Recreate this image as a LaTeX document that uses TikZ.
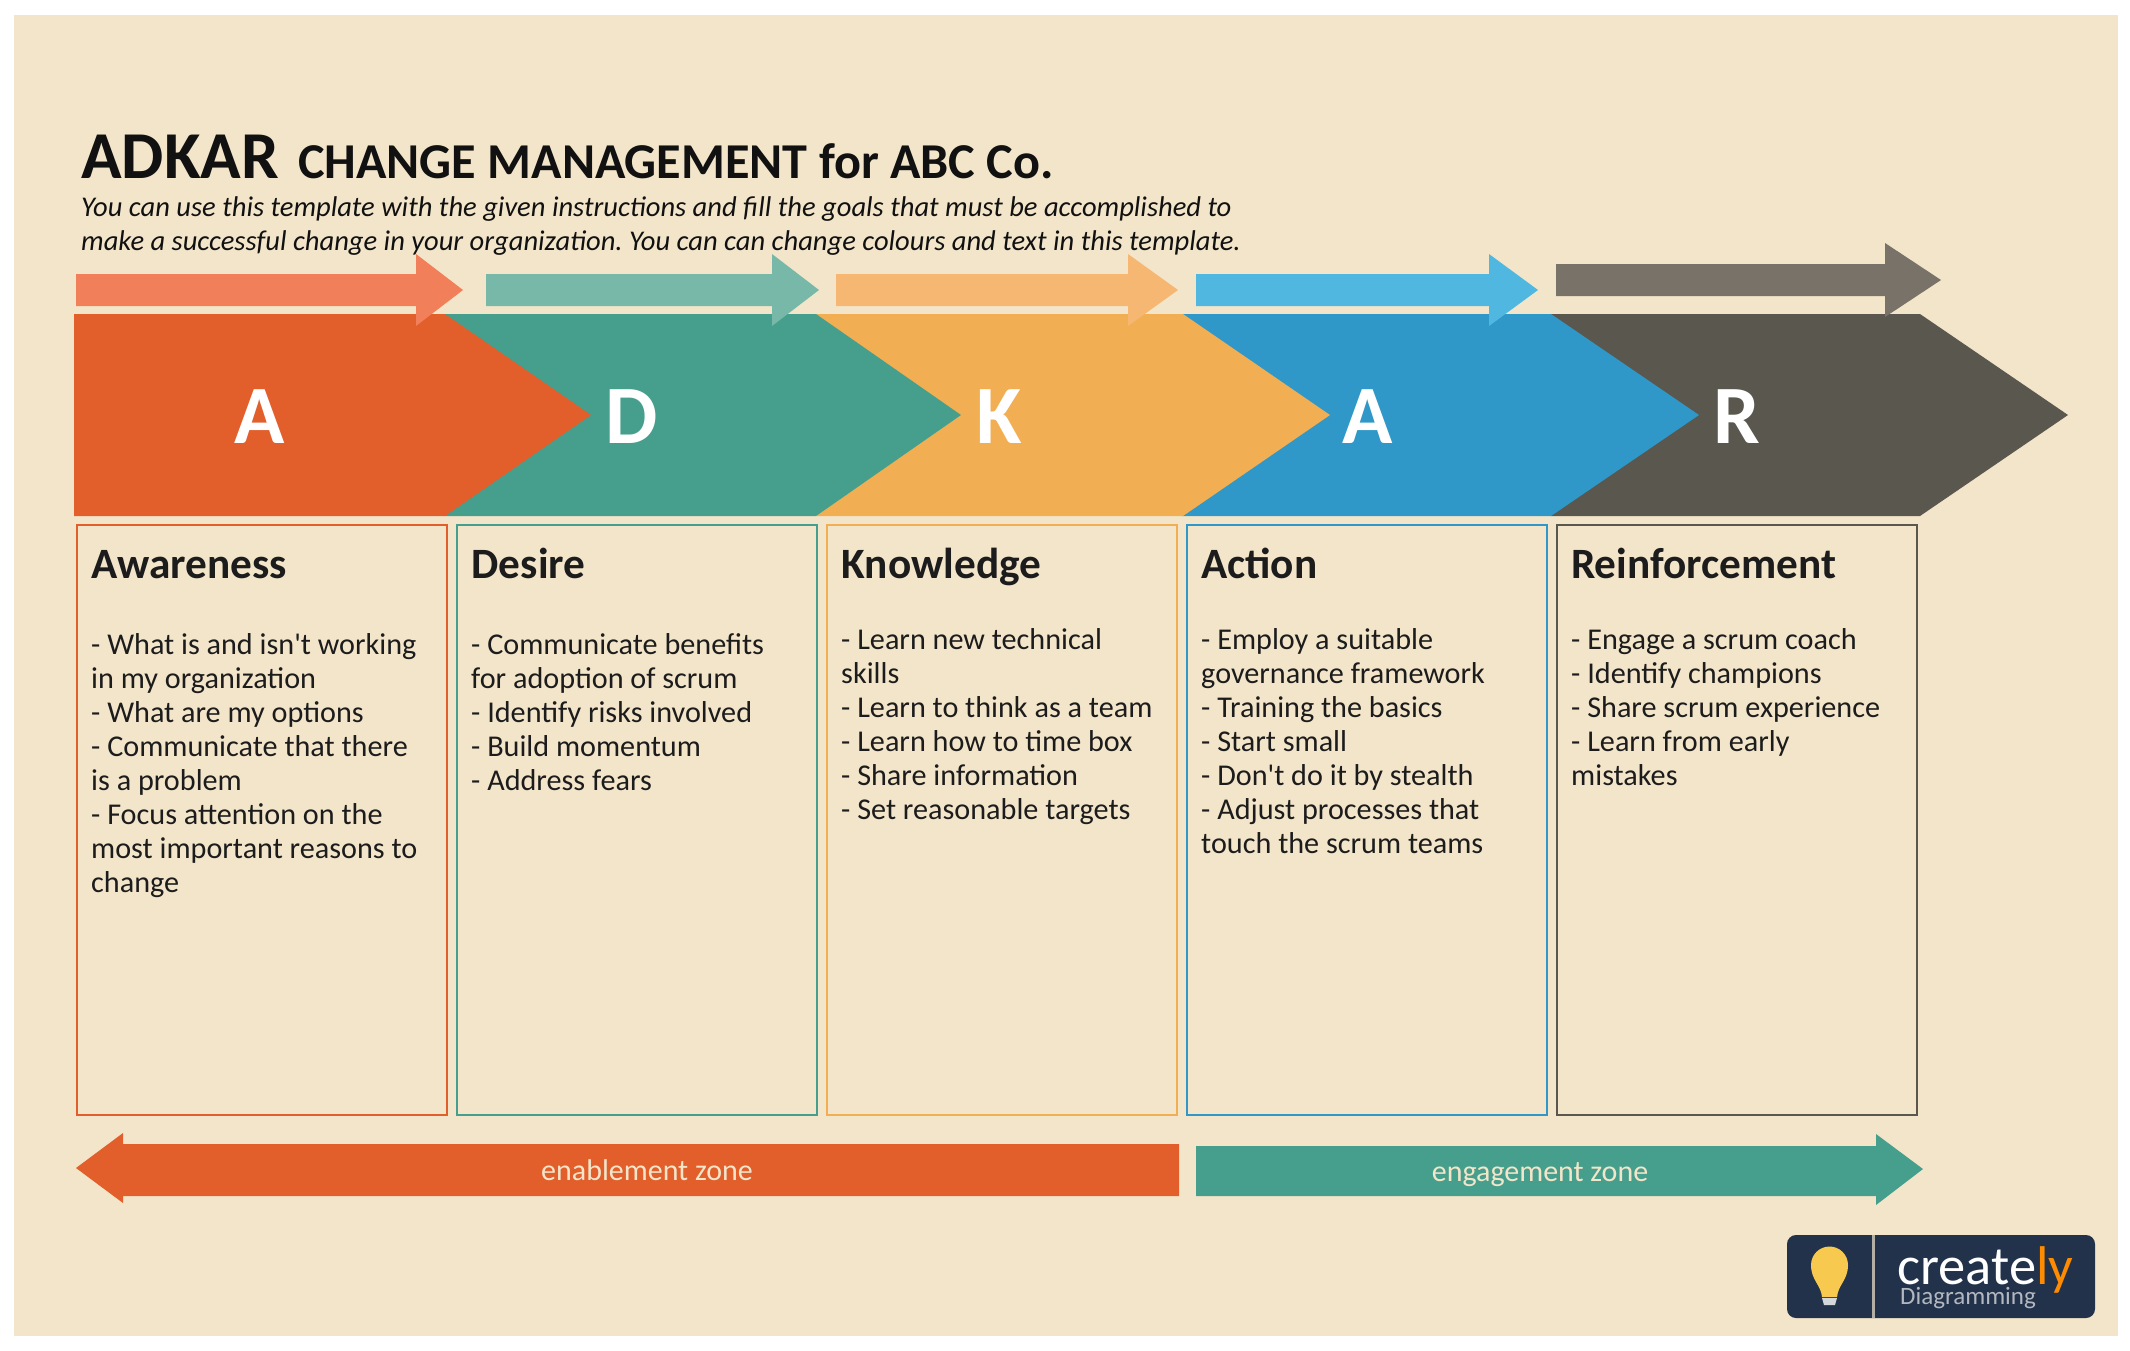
\documentclass[tikz,border=0pt]{standalone}
\usepackage{fontspec}
\setmainfont{Carlito}[Ligatures=TeXOff]
\definecolor{bg}{HTML}{F3E5CA}
\definecolor{cA}{HTML}{E25E2B}
\definecolor{cD}{HTML}{469F8C}
\definecolor{cK}{HTML}{F2AE52}
\definecolor{cC}{HTML}{3098C8}
\definecolor{cR}{HTML}{59574E}
\definecolor{lA}{HTML}{F17F5A}
\definecolor{lD}{HTML}{78B8A8}
\definecolor{lK}{HTML}{F6B773}
\definecolor{lC}{HTML}{50B8E0}
\definecolor{lR}{HTML}{787268}
\definecolor{logo}{HTML}{22324A}
\definecolor{bulb}{HTML}{F7C94F}
\definecolor{ink}{HTML}{111111}
\definecolor{txt}{HTML}{1C1C1C}
\newcommand{\rarrow}[8]{\fill[#1] (#2,#5) -- (#3,#5) -- (#3,#7) -- (#4,#8) -- (#3,2*#8-#7) -- (#3,#6) -- (#2,#6) -- cycle;}
\tikzset{
  letter/.style={text=white,font=\fontsize{83}{83}\selectfont\bfseries,inner sep=0pt,anchor=base},
  stage/.style={draw=#1,line width=2pt,fill=none,anchor=north west,inner sep=0pt,outer sep=0pt},
  head/.style={text=txt,font=\fontsize{43.3}{43.3}\selectfont\bfseries,inner sep=0pt,anchor=base west},
  body/.style={text=txt,font=\fontsize{30.2}{34}\selectfont,inner sep=0pt,anchor=north west,align=left},
  zone/.style={text=bg,font=\fontsize{30}{30}\selectfont,inner sep=0pt,anchor=base}
}
\begin{document}
\frenchspacing
\begin{tikzpicture}[x=1pt,y=-1pt]
\useasboundingbox (0,0) rectangle (2130,1350);
\fill[white] (0,0) rectangle (2130,1350);
\fill[bg] (14,15) rectangle (2118,1336);
% title
\node[text=ink,font=\fontsize{67}{67}\selectfont\bfseries,inner sep=0pt,anchor=base west] (t1) at (81,178) {ADKAR};
\node[text=ink,font=\fontsize{50.2}{50.2}\selectfont\bfseries,inner sep=0pt,anchor=base west] (t2) at (298,178) {CHANGE MANAGEMENT for ABC Co.};
\node[text=ink,font=\fontsize{28.55}{34}\selectfont\itshape,inner sep=0pt,anchor=north west,align=left] (t3) at (81,196.5) {You can use this template with the given instructions and fill the goals that must be accomplished to\\make a successful change in your organization. You can can change colours and text in this template.};
% chevrons
\fill[cR] (1551,314) -- (1920,314) -- (2068,415) -- (1920,516) -- (1551,516) -- cycle;
\fill[cC] (1182,314) -- (1551,314) -- (1699,415) -- (1551,516) -- (1182,516) -- cycle;
\fill[cK] (816,314) -- (1183,314) -- (1330,415) -- (1183,516) -- (816,516) -- cycle;
\fill[cD] (445,314) -- (816,314) -- (961,415) -- (816,516) -- (445,516) -- cycle;
\fill[cA] (74,314) -- (445,314) -- (591,415) -- (445,516) -- (74,516) -- cycle;
% top arrows
\rarrow{lA}{76}{416}{463}{274}{306}{254}{290}
\rarrow{lD}{486}{772}{819}{274}{306}{254}{290}
\rarrow{lK}{836}{1128}{1178}{274}{306}{254}{290}
\rarrow{lC}{1196}{1489}{1538}{274}{306}{254}{290}
\rarrow{lR}{1556}{1885}{1941}{264}{296}{243}{280}
% letters
\node[letter] (la) at (260,443) {A};
\node[letter] (ld) at (632,443) {D};
\node[letter] (lk) at (999,443) {K};
\node[letter] (lc) at (1367.5,443) {A};
\node[letter] (lr) at (1736.5,443) {R};
% boxes
\node[stage=cA,minimum width=370pt,minimum height=590pt] (bA) at (77,524.5) {};
\node[stage=cD,minimum width=360pt,minimum height=590pt] (bD) at (457,524.5) {};
\node[stage=cK,minimum width=350pt,minimum height=590pt] (bK) at (827,524.5) {};
\node[stage=cC,minimum width=360.5pt,minimum height=590pt] (bC) at (1186.5,524.5) {};
\node[stage=cR,minimum width=360.5pt,minimum height=590pt] (bR) at (1556.5,524.5) {};
% headings
\node[head] (hA) at (91,578.5) {Awareness};
\node[head] (hD) at (471.5,578.5) {Desire};
\node[head] (hK) at (841.5,578.5) {Knowledge};
\node[head] (hC) at (1201,578.5) {Action};
\node[head] (hR) at (1571,578.5) {Reinforcement};
% bodies
\node[body] (tA) at (91,633) {- What is and isn't working\\in my organization\\- What are my options\\- Communicate that there\\is a problem\\- Focus attention on the\\most important reasons to\\change};
\node[body] (tD) at (471,633) {- Communicate benefits\\for adoption of scrum\\- Identify risks involved\\- Build momentum\\- Address fears};
\node[body] (tK) at (841,628) {- Learn new technical\\skills\\- Learn to think as a team\\- Learn how to time box\\- Share information\\- Set reasonable targets};
\node[body] (tC) at (1201,628) {- Employ a suitable\\governance framework\\- Training the basics\\- Start small\\- Don't do it by stealth\\- Adjust processes that\\touch the scrum teams};
\node[body] (tR) at (1571,628) {- Engage a scrum coach\\- Identify champions\\- Share scrum experience\\- Learn from early\\mistakes};
% zones
\fill[cA] (1179,1144) -- (123,1144) -- (123,1133) -- (76,1168) -- (123,1203) -- (123,1196) -- (1179,1196) -- cycle;
\fill[cD] (1196,1146) -- (1876,1146) -- (1876,1134) -- (1923,1169) -- (1876,1205) -- (1876,1196) -- (1196,1196) -- cycle;
\node[zone] (z1) at (647,1180) {enablement zone};
\node[zone] (z2) at (1540,1181) {engagement zone};
% logo
\fill[logo,rounded corners=9pt] (1787,1235) rectangle (2095,1318);
\fill[bg!70!logo] (1871.5,1235) rectangle (1875,1318);
\fill[bulb] (1811,1265) arc[start angle=180,end angle=360,radius=18.5] .. controls (1848,1280) and (1838,1285) .. (1837,1297) -- (1822,1297) .. controls (1821,1285) and (1811,1280) .. (1811,1265) -- cycle;
\fill[white!80!logo] (1822,1298) -- (1837,1298) -- (1835,1305) -- (1824,1305) -- cycle;
\node[text=white,font=\fontsize{54.5}{54.5}\selectfont,inner sep=0pt,anchor=base west] (lg) at (1897,1284) {create\textcolor{orange!90!yellow}{ly}};
\node[text=white!65!logo,font=\fontsize{25}{25}\selectfont,inner sep=0pt,anchor=base west] (lg2) at (1900,1304) {Diagramming};
\end{tikzpicture}
\end{document}
